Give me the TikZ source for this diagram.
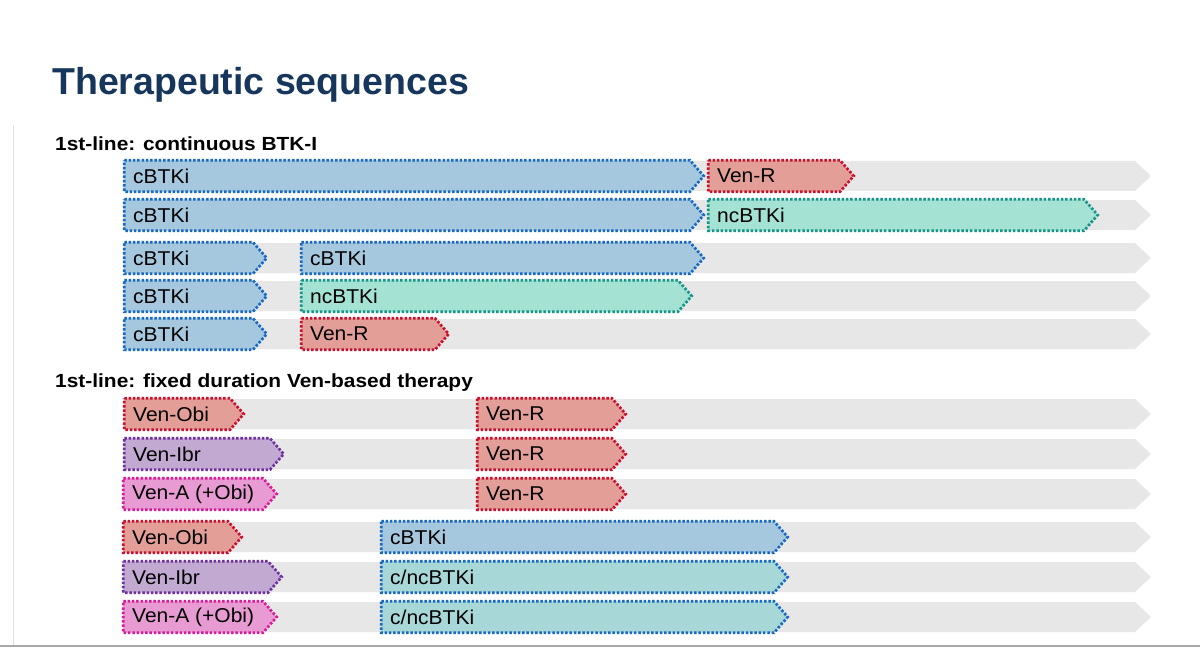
\documentclass[tikz,border=0pt]{standalone}
\usepackage{fontspec}
\setmainfont{Liberation Sans}
\newfontfamily\labfont[FakeStretch=1.05]{Liberation Sans}
\newfontfamily\headfont[FakeStretch=1.1]{Liberation Sans}
\definecolor{titlecol}{HTML}{16365C}
\definecolor{bargray}{HTML}{E6E7E6}
\definecolor{bluefill}{HTML}{A6C8DE}
\definecolor{blueline}{HTML}{1769C2}
\definecolor{redfill}{HTML}{E39E98}
\definecolor{redline}{HTML}{C8102E}
\definecolor{tealfill}{HTML}{A4E3D4}
\definecolor{tealline}{HTML}{159487}
\definecolor{cyanfill}{HTML}{A8D7D8}
\definecolor{purplefill}{HTML}{C2A9D2}
\definecolor{purpleline}{HTML}{7030A0}
\definecolor{pinkfill}{HTML}{E79BD2}
\definecolor{pinkline}{HTML}{D81B9A}
\definecolor{framegray}{HTML}{A8A8A8}
\tikzset{
  dotline/.style={line width=2.7pt, dash pattern=on 2.5pt off 1.8pt},
  bluebox/.style={dotline, draw=blueline, fill=bluefill},
  redbox/.style={dotline, draw=redline, fill=redfill},
  tealbox/.style={dotline, draw=tealline, fill=tealfill},
  cyanbox/.style={dotline, draw=blueline, fill=cyanfill},
  purplebox/.style={dotline, draw=purpleline, fill=purplefill},
  pinkbox/.style={dotline, draw=pinkline, fill=pinkfill},
  graybar/.style={fill=bargray, draw=none},
  lab/.style={font=\labfont\fontsize{20}{22}\selectfont, text=black, inner sep=0pt, anchor=west},
  head/.style={font=\headfont\bfseries\fontsize{19}{21}\selectfont, text=black, inner sep=0pt, anchor=base west},
}
% #1 name, #2 style, #3 x0 outer, #4 x tip outer, #5 y centre, #6 text
\newcommand\seg[6]{%
  \draw[#2] (#3+1.3,#5-15.7) -- (#4-15,#5-15.7) -- (#4-1.3,#5) -- (#4-15,#5+15.7) -- (#3+1.3,#5+15.7) -- cycle;
  \node[lab] (#1) at (#3+10,#5) {#6};}
% #1 name, #2 y centre
\newcommand\grayrow[2]{%
  \fill[graybar] (123,#2-15) -- (1135,#2-15) -- (1151,#2) -- (1135,#2+15) -- (123,#2+15) -- cycle;
  \coordinate (#1) at (123,#2);}
\begin{document}
\begin{tikzpicture}[x=1pt,y=-1pt]
\useasboundingbox (0,0) rectangle (1200,650);
\fill[white] (0,0) rectangle (1200,650);
% frame
\draw[line width=1pt, draw=black!12] (13,125) -- (13,645);
\draw[line width=2pt, draw=framegray] (0,646) -- (1200,646);
% title
\node[font=\bfseries\fontsize{37.5}{40}\selectfont, text=titlecol, inner sep=0pt, anchor=base west] (title) at (52,95) {Therapeutic sequences};
% section 1
\node[head] (h1) at (55,150) {1st-line: continuous BTK-I};
\grayrow{g1}{176}\grayrow{g2}{215}\grayrow{g3}{258}\grayrow{g4}{296}\grayrow{g5}{334}
\seg{a1}{bluebox}{123}{705}{176}{cBTKi}
\seg{a2}{redbox}{707}{855}{176}{Ven-R}
\seg{b1}{bluebox}{123}{705}{215}{cBTKi}
\seg{b2}{tealbox}{707}{1099}{215}{ncBTKi}
\seg{c1}{bluebox}{123}{268}{258}{cBTKi}
\seg{c2}{bluebox}{300}{705}{258}{cBTKi}
\seg{d1}{bluebox}{123}{268}{296}{cBTKi}
\seg{d2}{tealbox}{300}{693}{296}{ncBTKi}
\seg{e1}{bluebox}{123}{268}{334}{cBTKi}
\seg{e2}{redbox}{300}{450}{334}{Ven-R}
% section 2
\node[head] (h2) at (55,387) {1st-line: fixed duration Ven-based therapy};
\grayrow{g6}{414}\grayrow{g7}{454}\grayrow{g8}{494}\grayrow{g9}{537}\grayrow{g10}{577}\grayrow{g11}{617}
\seg{f1}{redbox}{123}{245}{414}{Ven-Obi}
\seg{f2}{redbox}{476}{627}{414}{Ven-R}
\seg{g1s}{purplebox}{123}{285}{454}{Ven-Ibr}
\seg{g2s}{redbox}{476}{627}{454}{Ven-R}
\seg{h1s}{pinkbox}{122}{278}{494}{Ven-A (+Obi)}
\seg{h2s}{redbox}{476}{627}{494}{Ven-R}
\seg{i1}{redbox}{122}{243}{537}{Ven-Obi}
\seg{i2}{bluebox}{380}{789}{537}{cBTKi}
\seg{j1}{purplebox}{122}{283}{577}{Ven-Ibr}
\seg{j2}{cyanbox}{380}{789}{577}{c/ncBTKi}
\seg{k1}{pinkbox}{122}{278}{617}{Ven-A (+Obi)}
\seg{k2}{cyanbox}{380}{789}{617}{c/ncBTKi}
\end{tikzpicture}
\end{document}
